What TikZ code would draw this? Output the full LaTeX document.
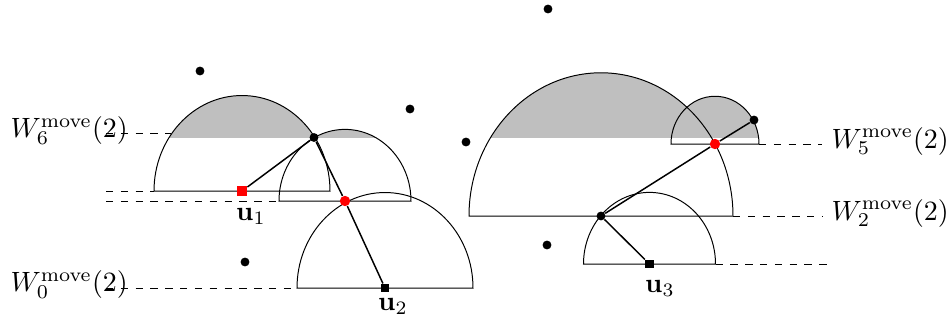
\documentclass[tikz,border=0pt]{standalone}
\usepackage{amsmath}
\usepackage{amssymb}
\usetikzlibrary{backgrounds}

% upper half of an ellipse, closed by its base line
\newcommand{\halfdisk}[2]{(#1) ++(-#2,0) arc[start angle=180, end angle=0, x radius=#2, y radius=1.085*#2] -- cycle}

\begin{document}
\begin{tikzpicture}[x=0.405pt, y=0.405pt,
  blackpt/.style={circle, fill=black, inner sep=0pt, minimum size=3.6pt},
  redpt/.style={circle, fill=red, inner sep=0pt, minimum size=4.2pt},
  blacksq/.style={rectangle, fill=black, inner sep=0pt, minimum size=3.3pt},
  redsq/.style={rectangle, fill=red, inner sep=0pt, minimum size=4pt},
  seg/.style={semithick},
  lvl/.style={dashed},
  wlbl/.style={inner sep=0pt, anchor=base west, scale=1.13, transform shape},
  ulbl/.style={inner sep=0pt, scale=1.1, transform shape},
  shadearea/.style={fill=gray!50},
]
\useasboundingbox (0,0) rectangle (952,323);

% --- centres and chain points ---
\node[redsq]   (u1) at (242,132) {};
\node[redpt]   (r1) at (345,122) {};
\node[blacksq] (u2) at (385,35) {};
\node[blackpt] (p1) at (314,185.5) {};
\node[blackpt] (p2) at (601,107) {};
\node[redpt]   (r2) at (715,179) {};
\node[blackpt] (p3) at (754,203) {};
\node[blacksq] (u3) at (649.5,59) {};

% --- other points ---
\node[blackpt] (q1) at (200,252) {};
\node[blackpt] (q2) at (410,214) {};
\node[blackpt] (q3) at (466,181) {};
\node[blackpt] (q4) at (548,314) {};
\node[blackpt] (q5) at (245,61) {};
\node[blackpt] (q6) at (547,78) {};

% --- half disks ---
\begin{pgfonlayer}{background}
\begin{scope}
  \clip (0,185.5) rectangle (952,323);
  \fill[shadearea] \halfdisk{u1.center}{88} \halfdisk{r1.center}{66}
                   \halfdisk{p2.center}{132} \halfdisk{r2.center}{44};
\end{scope}
\draw \halfdisk{u1.center}{88};
\draw \halfdisk{r1.center}{66};
\draw \halfdisk{u2.center}{88};
\draw \halfdisk{p2.center}{132};
\draw \halfdisk{r2.center}{44};
\draw \halfdisk{u3.center}{66};
\end{pgfonlayer}

% --- chains ---
\draw[seg] (u1) -- (p1) -- (r1) -- (u2);
\draw[seg] (u3) -- (p2) -- (r2) -- (p3);

% --- levels ---
\coordinate (a1) at (106,190);   \coordinate (a2) at (171,190);
\coordinate (b1) at (106,132);   \coordinate (b2) at (154,132);
\coordinate (c1) at (106,122);   \coordinate (c2) at (279,122);
\coordinate (d1) at (106,35);    \coordinate (d2) at (297,35);
\coordinate (e1) at (759,179);   \coordinate (e2) at (822,179);
\coordinate (f1) at (733,107);   \coordinate (f2) at (822,107);
\coordinate (g1) at (715.5,59);  \coordinate (g2) at (827,59);
\draw[lvl] (a1) -- (a2);
\draw[lvl] (b1) -- (b2);
\draw[lvl] (c1) -- (c2);
\draw[lvl] (d1) -- (d2);
\draw[lvl] (e1) -- (e2);
\draw[lvl] (f1) -- (f2);
\draw[lvl] (g1) -- (g2);

% --- labels ---
\node[wlbl] (w6) at (10,185.5) {$W_6^{\mathrm{move}}(2)$};
\node[wlbl] (w0) at (10,31.5)  {$W_0^{\mathrm{move}}(2)$};
\node[wlbl] (w5) at (831,175)  {$W_5^{\mathrm{move}}(2)$};
\node[wlbl] (w2) at (831,103)  {$W_2^{\mathrm{move}}(2)$};
\node[ulbl] (l1) at (251,107) {$\mathbf{u}_1$};
\node[ulbl] (l2) at (393,17)  {$\mathbf{u}_2$};
\node[ulbl] (l3) at (660,34.5) {$\mathbf{u}_3$};
\end{tikzpicture}
\end{document}
